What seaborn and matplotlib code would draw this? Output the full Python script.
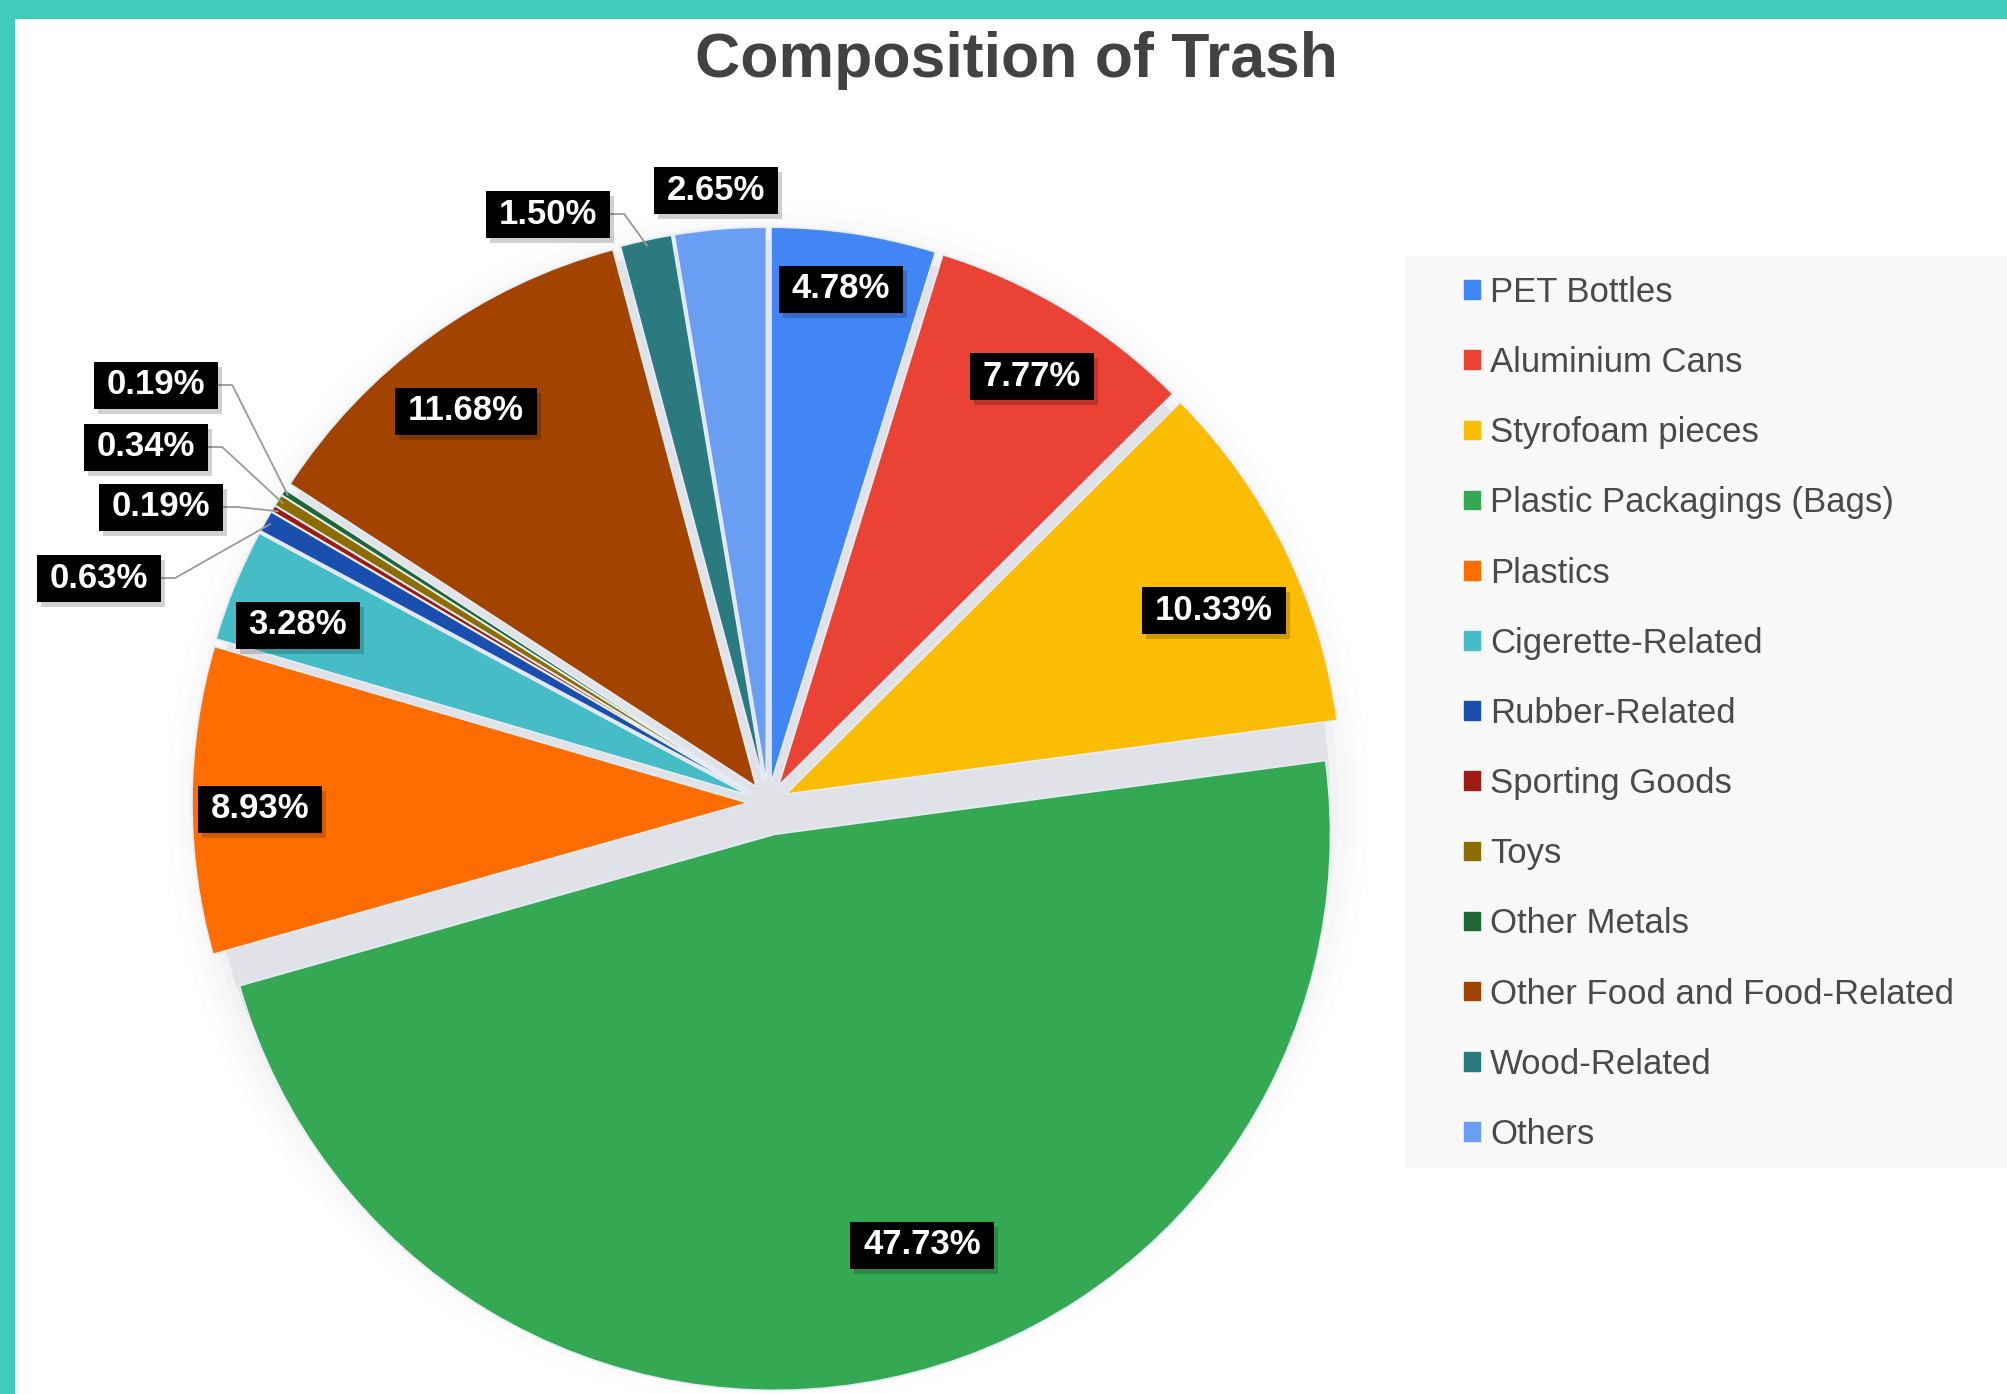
import matplotlib
matplotlib.use("Agg")
import numpy as np
import matplotlib.pyplot as plt
import matplotlib.patches as mpatches
import matplotlib.patheffects as pe
import seaborn as sns

# ---- data ----
categories = [
    "PET Bottles", "Aluminium Cans", "Styrofoam pieces", "Plastic Packagings (Bags)",
    "Plastics", "Cigerette-Related", "Rubber-Related", "Sporting Goods", "Toys",
    "Other Metals", "Other Food and Food-Related", "Wood-Related", "Others",
]
shares = [4.78, 7.77, 10.33, 47.73, 8.93, 3.28, 0.63, 0.19, 0.34, 0.19, 11.68, 1.50, 2.65]
slice_colors = [
    "#4285F4", "#EA4335", "#FBBC04", "#34A853", "#FF6D01", "#46BDC6", "#1A4FB0",
    "#9E1B14", "#8C6D00", "#1E6633", "#A34300", "#2A7A80", "#6A9EF2",
]

# label centres in pixel coords (y from top), one per slice
label_xy = [(841, 289), (1032, 376), (1214, 610), (922, 1245), (260, 809), (298, 625),
            (99, 578), (161, 507), (146, 447), (156, 385), (466, 411), (548, 214), (716, 190)]
leader_lines = [6, 7, 8, 9, 11]

W, H = 2008, 1394
CX, CY, R = 768, H - 803, 556

sns.set_theme(style="white")
plt.rcParams["font.family"] = ["Liberation Sans", "DejaVu Sans"]

fig = plt.figure(figsize=(W / 100, H / 100), dpi=100, facecolor="#41CBBD")
ax = fig.add_axes([0, 0, 1, 1])

# white panel inside the teal frame
ax.add_patch(mpatches.Rectangle((15, 0), W - 15, H - 19, fc="white", ec="none", zorder=0))
# legend background
ax.add_patch(mpatches.Rectangle((1406, H - 1168), W - 1406, 912, fc="#f8f8f8", ec="none", zorder=0))

# soft halo + gray base under the exploded slices
for dr, a in [(45, 0.012), (34, 0.015), (24, 0.02), (14, 0.03)]:
    ax.add_patch(mpatches.Circle((CX, CY), R + dr, fc="#6a6a80", ec="none", alpha=a, zorder=1))
ax.add_patch(mpatches.Circle((CX, CY), R + 6, fc="#e1e1e8", ec="none", zorder=1))

explode = [32 if c.startswith("Plastic Packagings") else 20 for c in categories]
palette = sns.color_palette(slice_colors)
wedges, _ = ax.pie(shares, colors=palette, startangle=90, counterclock=False,
                   radius=R, center=(CX, CY), explode=explode, frame=True,
                   wedgeprops=dict(edgecolor="#e4ecf6", linewidth=1.2, zorder=2))

ax.set_xlim(0, W)
ax.set_ylim(0, H)
ax.set_aspect("auto")
ax.axis("off")

# ---- percentage labels ----
texts = []
for i, (x, y) in enumerate(label_xy):
    txt = ax.text(x, H - y, f"{shares[i]:.2f}%", ha="center", va="center", fontsize=25,
                  fontweight="bold", color="white", zorder=6)
    texts.append(txt)

fig.canvas.draw()
renderer = fig.canvas.get_renderer()
boxes = {}
for i, txt in enumerate(texts):
    bb = txt.get_window_extent(renderer)
    px, py = 13, 7
    rect = mpatches.Rectangle((bb.x0 - px, bb.y0 - py), bb.width + 2 * px, bb.height + 2 * py,
                              fc="black", ec="none", zorder=5)
    rect.set_path_effects([pe.SimplePatchShadow(offset=(3, -4), shadow_rgbFace="black", alpha=0.18),
                           pe.Normal()])
    ax.add_patch(rect)
    boxes[i] = (bb.x1 + px, (bb.y0 + bb.y1) / 2)

# leader lines for the thin slices
for i in leader_lines:
    w = wedges[i]
    t = np.deg2rad((w.theta1 + w.theta2) / 2)
    tx = w.center[0] + 0.99 * w.r * np.cos(t)
    ty = w.center[1] + 0.99 * w.r * np.sin(t)
    bx, by = boxes[i]
    ax.plot([bx, bx + 14, tx], [by, by, ty], color="#9a9a9a", lw=1.3, zorder=4)

# ---- title ----
fig.text(1016 / W, 1 - 61 / H, "Composition of Trash", ha="center", va="center",
         fontsize=45, fontweight="bold", color="#424242")

# ---- legend ----
handles = [mpatches.Patch(color=c) for c in palette]
ax.legend(handles, categories, loc="upper left", bbox_to_anchor=(1464 / W, 1 - 276 / H),
          frameon=False, fontsize=25, labelcolor="#4a4a4a", handlelength=0.45,
          handleheight=0.45, handletextpad=0.3, labelspacing=1.07, borderpad=0,
          borderaxespad=0)

fig.savefig("out.png", dpi=100, facecolor=fig.get_facecolor())
